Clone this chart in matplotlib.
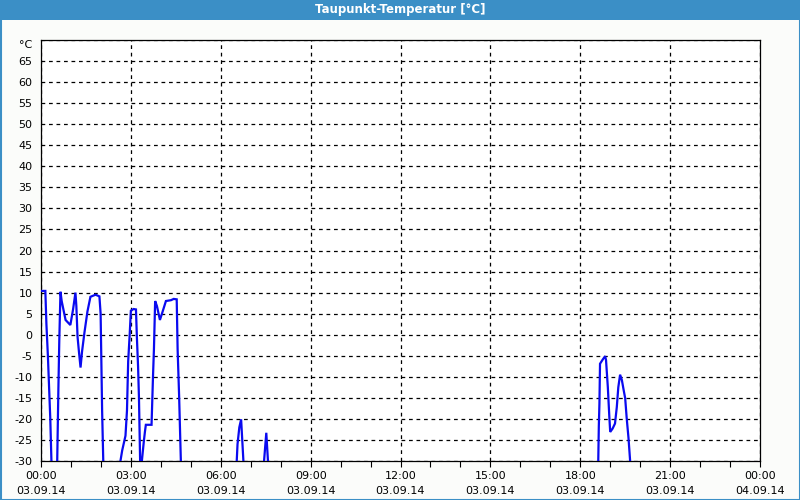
import matplotlib
matplotlib.use("Agg")
import matplotlib.pyplot as plt
from matplotlib.patches import Rectangle
import numpy as np

# Data: hours since 03.09.14 00:00, dew point temperature in °C (None = below range / no data)
hours = [0.0, 0.145, 0.18, 0.23, 0.27, 0.31, 0.35, None,
         0.54, 0.58, 0.61, 0.65, 0.69, 0.82, 0.98, 1.07, 1.15, 1.18, 1.22, 1.27, 1.32,
         1.37, 1.45, 1.55, 1.65, 1.82, 1.95, 1.99, 2.04, 2.08, None,
         2.64, 2.71, 2.82, 2.87, 2.91, 2.96, 3.0, 3.09, 3.17, 3.2, 3.24, 3.27, 3.31, None,
         3.36, 3.43, 3.47, 3.5, 3.69, 3.74, 3.77, 3.81, 3.87, 3.97, 4.06, 4.17, 4.34, 4.43, 4.53,
         4.56, 4.61, 4.67, None,
         6.53, 6.56, 6.62, 6.68, 6.76, None,
         7.44, 7.52, 7.58, None,
         18.6, 18.62, 18.64, 18.66, 18.75, 18.83, 18.86, 18.92, 18.97, 19.0, 19.08, 19.16,
         19.22, 19.27, 19.33, 19.39, 19.45, 19.5, 19.55, 19.61, 19.67]
values = [10.4, 10.4, 2.6, -5.0, -12.5, -20.0, -30.5, None,
          -30.5, -13.0, -1.5, 10.2, 8.0, 3.5, 2.3, 6.0, 10.0, 6.8, -0.5, -4.3, -7.8,
          -4.0, 0.5, 5.5, 9.0, 9.5, 9.1, 5.0, -18.0, -30.5, None,
          -30.5, -27.5, -24.0, -18.0, -6.3, 0.0, 5.7, 6.1, 6.0, -0.5, -7.5, -15.0, -30.5, None,
          -30.5, -25.5, -23.0, -21.4, -21.4, -9.6, -3.4, 8.0, 6.8, 3.5, 5.5, 8.0, 8.2, 8.5, 8.4,
          -3.4, -14.5, -30.5, None,
          -30.5, -26.0, -22.0, -20.1, -30.5, None,
          -30.5, -23.3, -30.5, None,
          -30.5, -21.7, -16.4, -6.9, -5.9, -5.1, -6.0, -12.4, -19.4, -23.1, -22.3, -21.1,
          -17.2, -12.5, -9.5, -10.8, -13.2, -15.1, -19.8, -24.5, -30.5]

y_ticks = list(range(-30, 71, 5))
y_labels = [str(v) for v in range(-30, 66, 5)] + ["°C"]
x_ticks = list(range(0, 25, 3))
x_times = ["00:00", "03:00", "06:00", "09:00", "12:00", "15:00", "18:00", "21:00", "00:00"]
x_dates = ["03.09.14"] * 8 + ["04.09.14"]
title = "Taupunkt-Temperatur [°C]"

x = np.array([np.nan if h is None else h for h in hours], dtype=float)
y = np.array([np.nan if v is None else v for v in values], dtype=float)

fig = plt.figure(figsize=(8, 5), dpi=100, facecolor="#fbfcfa")
ax = fig.add_axes([41 / 800, 39 / 500, 719 / 800, 421 / 500])
ax.set_facecolor("white")

ax.plot(x, y, color="#0a0af0", linewidth=1.6, solid_joinstyle="miter", zorder=3)

ax.set_xlim(0, 24)
ax.set_ylim(-30, 70)
ax.set_yticks(y_ticks)
ax.set_yticklabels(y_labels)
ax.get_yticklabels()[-1].set_va("top")
ax.set_xticks(x_ticks)
ax.set_xticklabels([f"{t}\n{d}" for t, d in zip(x_times, x_dates)], linespacing=1.7)
ax.set_xticks(range(0, 25), minor=True)

ax.grid(True, which="major", color="black", linestyle=(0, (3, 3)), linewidth=0.9)
ax.tick_params(axis="y", length=0, pad=6, labelsize=8, colors="black")
ax.tick_params(axis="x", which="both", length=4, width=0.8, direction="out", pad=3,
               labelsize=8, colors="black")
for s in ax.spines.values():
    s.set_color("black")
    s.set_linewidth(0.9)

# title bar
fig.patches.append(Rectangle((0, 480 / 500), 1, 20 / 500, transform=fig.transFigure,
                             facecolor="#3b8fc6", edgecolor="none", zorder=0))
fig.text(0.5, 490 / 500, title, color="white", ha="center", va="center",
         fontsize=8.5, fontweight="bold")
# outer border
fig.patches.append(Rectangle((0.5 / 800, 0.5 / 500), 799 / 800, 499 / 500,
                             transform=fig.transFigure, facecolor="none",
                             edgecolor="#3b8fc6", linewidth=1.5, zorder=5))

fig.savefig("out.png", dpi=100, facecolor=fig.get_facecolor())
